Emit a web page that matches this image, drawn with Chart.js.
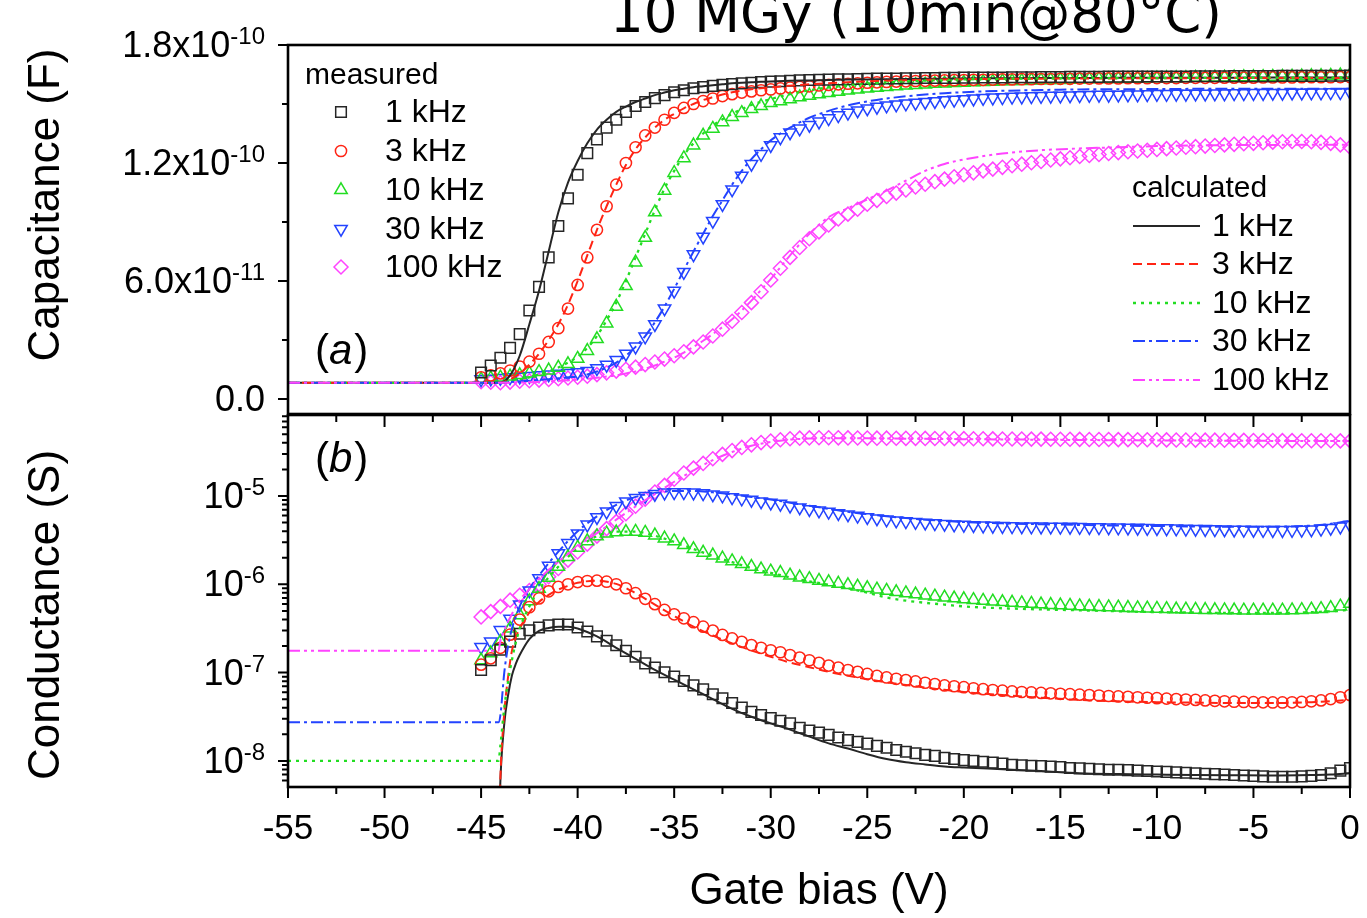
<!DOCTYPE html>
<html>
<head>
<meta charset="utf-8">
<title>10 MGy (10min@80°C) - C-V and G-V</title>
<script src="https://cdn.jsdelivr.net/npm/chart.js@4.4.1/dist/chart.umd.min.js"></script>
<style>
  html, body { margin: 0; padding: 0; background: #fff; }
  #wrap { position: relative; width: 1367px; height: 918px; overflow: hidden; background: #fff; }
  #capChart { position: absolute; left: 0; top: 0; }
  #condChart { position: absolute; left: 0; top: 414px; }
</style>
</head>
<body>
<div id="wrap">
  <canvas id="capChart" width="1367" height="416"></canvas>
  <canvas id="condChart" width="1367" height="504"></canvas>
</div>
<script>
// ---- data ----
const titleText = '10 MGy (10min@80°C)';
const freqLabels = ['1 kHz', '3 kHz', '10 kHz', '30 kHz', '100 kHz'];

// gate bias of the measured points (V)
const biasMeas = [-45, -44.5, -44, -43.5, -43, -42.5, -42, -41.5, -41, -40.5,
  -40, -39.5, -39, -38.5, -38, -37.5, -37, -36.5, -36, -35.5,
  -35, -34.5, -34, -33.5, -33, -32.5, -32, -31.5, -31, -30.5,
  -30, -29.5, -29, -28.5, -28, -27.5, -27, -26.5, -26, -25.5,
  -25, -24.5, -24, -23.5, -23, -22.5, -22, -21.5, -21, -20.5,
  -20, -19.5, -19, -18.5, -18, -17.5, -17, -16.5, -16, -15.5,
  -15, -14.5, -14, -13.5, -13, -12.5, -12, -11.5, -11, -10.5,
  -10, -9.5, -9, -8.5, -8, -7.5, -7, -6.5, -6, -5.5,
  -5, -4.5, -4, -3.5, -3, -2.5, -2, -1.5, -1, -0.5, 0];

// measured capacitance (pF)
const capMeas1k = [13.5, 17, 21, 26, 33, 45, 57, 72, 88, 102,
  114, 125, 132, 138, 142, 146, 149, 151, 153, 154.5,
  156, 157, 158, 158.6, 159.2, 159.7, 160.1, 160.5, 160.8, 161.1,
  161.4, 161.6, 161.8, 162, 162.2, 162.3, 162.4, 162.5, 162.6, 162.7,
  162.8, 162.9, 163, 163, 163.1, 163.1, 163.2, 163.2, 163.3, 163.3,
  163.4, 163.4, 163.5, 163.5, 163.5, 163.6, 163.6, 163.6, 163.7, 163.7,
  163.7, 163.8, 163.8, 163.8, 163.8, 163.9, 163.9, 163.9, 163.9, 164,
  164, 164, 164, 164, 164.1, 164.1, 164.1, 164.1, 164.2, 164.2,
  164.2, 164.2, 164.2, 164.3, 164.3, 164.3, 164.3, 164.3, 164.4, 164.4, 164.5];
const capMeas3k = [11, 12, 13, 14.5, 16.5, 19, 23, 29, 36, 46,
  58, 72, 86, 98, 109, 120, 128, 134, 138, 142,
  145.5, 148, 150, 151.5, 152.8, 154, 155, 155.8, 156.4, 157,
  157.4, 157.9, 158.3, 158.7, 159, 159.4, 159.7, 160, 160.3, 160.5,
  160.8, 161, 161.2, 161.4, 161.5, 161.7, 161.8, 161.9, 162, 162.1,
  162.2, 162.3, 162.3, 162.4, 162.5, 162.5, 162.6, 162.6, 162.7, 162.7,
  162.8, 162.8, 162.9, 162.9, 163, 163, 163, 163.1, 163.1, 163.1,
  163.2, 163.2, 163.2, 163.3, 163.3, 163.3, 163.3, 163.4, 163.4, 163.4,
  163.4, 163.5, 163.5, 163.5, 163.5, 163.6, 163.6, 163.6, 163.6, 163.7, 163.7];
const capMeas10k = [10, 10.5, 11, 11.5, 12.2, 13, 13.8, 14.6, 16, 17.8,
  20.5, 24.5, 30.5, 38.5, 47, 57.5, 69.5, 82, 95, 106,
  115, 122.5, 129, 134, 137.5, 140.8, 143.5, 145.5, 147.5, 149,
  150.5, 151.5, 152.5, 153.5, 154.3, 155, 155.7, 156.3, 156.9, 157.4,
  157.9, 158.3, 158.7, 159.1, 159.4, 159.7, 160, 160.3, 160.5, 160.7,
  160.9, 161.1, 161.3, 161.4, 161.6, 161.7, 161.8, 162, 162.1, 162.2,
  162.3, 162.4, 162.5, 162.6, 162.7, 162.7, 162.8, 162.9, 163, 163,
  163.1, 163.2, 163.2, 163.3, 163.4, 163.4, 163.5, 163.5, 163.6, 163.7,
  163.7, 163.8, 163.9, 163.9, 164, 164.1, 164.2, 164.3, 164.4, 164.6, 164.8];
const capMeas30k = [10, 10.3, 10.6, 11, 11.3, 11.6, 12, 12.4, 12.8, 13.2,
  13.6, 14.2, 15.6, 17.3, 19.8, 23, 26.6, 31.7, 38, 46,
  55, 64.5, 73.5, 82.5, 90.5, 99, 106.5, 113.5, 119.5, 124.5,
  129, 133, 135.5, 137.5, 139.3, 141, 142.7, 144.2, 145.5, 146.7,
  147.7, 148.5, 149.2, 149.7, 150.2, 150.6, 151, 151.4, 151.8, 152.1,
  152.4, 152.7, 153, 153.2, 153.4, 153.6, 153.7, 153.9, 154, 154.1,
  154.2, 154.3, 154.4, 154.5, 154.6, 154.6, 154.7, 154.8, 154.8, 154.9,
  155, 155, 155.1, 155.1, 155.2, 155.2, 155.3, 155.3, 155.4, 155.4,
  155.5, 155.5, 155.6, 155.6, 155.7, 155.7, 155.8, 155.8, 155.9, 155.9, 156];
const capMeas100k = [8.8, 8.5, 8.3, 8.6, 9, 9.3, 9.6, 9.9, 10.3, 10.7,
  11.1, 11.6, 12.4, 13.3, 14.2, 15.1, 16.2, 17.5, 18.8, 20.3,
  22, 24, 26.5, 29, 32, 35.5, 39.5, 44, 49, 54.5,
  60.5, 66.5, 72, 77, 81.5, 85, 88.5, 91.5, 94, 96.5,
  99, 101, 103, 104.7, 106.3, 107.8, 109.2, 110.5, 111.8, 113,
  114, 115, 116, 116.9, 117.8, 118.6, 119.4, 120.1, 120.8, 121.5,
  122.1, 122.7, 123.3, 123.8, 124.3, 124.8, 125.3, 125.7, 126.1, 126.5,
  126.9, 127.3, 127.6, 128, 128.3, 128.6, 128.9, 129.2, 129.5, 129.8,
  130, 130.3, 130.6, 130.8, 130.9, 130.9, 130.8, 130.5, 130, 129.2, 128];

// calculated capacitance (pF)
const biasCalcC = [-55, -44, -43.5, -43, -42.5, -42, -41.5, -41, -40.5, -40,
  -39.5, -39, -38.5, -38, -37.5, -37, -36.5, -36, -35.5, -35,
  -34.5, -34, -33.5, -33, -32.5, -32, -31.5, -31, -30.5, -30,
  -29, -28, -27, -26, -25, -24, -23, -22, -21, -20,
  -18, -16, -14, -12, -10, -8, -6, -4, -2, 0];
const capCalc1k = [8.2, 8.2, 12, 22, 38, 55, 75, 95, 110, 121,
  130, 137, 142, 146, 148.7, 151, 152.8, 154.5, 155.8, 157,
  157.8, 158.5, 159, 159.5, 160, 160.5, 160.8, 161, 161.3, 161.5,
  161.8, 162, 162.2, 162.4, 162.5, 162.6, 162.7, 162.8, 162.9, 163,
  163.1, 163.2, 163.2, 163.3, 163.3, 163.4, 163.4, 163.5, 163.5, 163.5];
const capCalc3k = [8.2, 8.2, 10, 13, 17.5, 23, 30, 38, 48, 60,
  73, 86, 98, 109, 119, 127, 133, 138, 142, 145,
  147.8, 150, 152, 153.5, 154.8, 156, 156.8, 157.5, 158, 158.5,
  159.3, 160, 160.6, 161.1, 161.5, 161.8, 162.1, 162.3, 162.5, 162.6,
  162.8, 162.9, 163, 163, 163.1, 163.1, 163.2, 163.2, 163.2, 163.2];
const capCalc10k = [8.2, 8.2, 9, 10, 11, 12.5, 14, 16, 18.5, 21.5,
  26, 32, 40, 49, 60, 72, 84, 96, 107, 116,
  124, 130, 135, 139, 142.2, 145, 147.4, 149.5, 151.1, 152.5,
  155, 157, 158.4, 159.5, 160.3, 161, 161.5, 161.9, 162.2, 162.5,
  162.8, 163, 163.1, 163.2, 163.2, 163.3, 163.3, 163.4, 163.4, 163.5];
const capCalc30k = [8.2, 8.2, 8.6, 9, 9.3, 9.7, 10.1, 10.5, 11, 11.5,
  12.5, 14, 16, 18.5, 22, 26.5, 32, 39, 47, 56,
  65.5, 75, 84, 93, 101, 109, 116, 122, 127, 131.5,
  138, 143, 146.5, 149.3, 151.3, 152.8, 153.9, 154.8, 155.5, 156,
  156.7, 157.1, 157.4, 157.5, 157.6, 157.7, 157.7, 157.7, 157.8, 157.8];
const capCalc100k = [8.2, 8.2, 8.3, 8.4, 8.5, 8.7, 8.9, 9.2, 9.5, 9.8,
  10.3, 10.8, 11.4, 12, 13, 14, 15.4, 17, 19, 21,
  23.6, 26.5, 29.6, 33, 36.6, 40.5, 45, 50, 55.5, 61,
  73, 84, 92.5, 97, 101.5, 106, 111, 116, 119.5, 121.8,
  124.8, 126.5, 127.4, 128, 128.6, 128.9, 129.1, 129.2, 129.3, 129.3];

// measured conductance (S)
const condMeas1k = [1.07e-7, 1.38e-7, 1.82e-7, 2.24e-7, 2.75e-7, 3.02e-7, 3.24e-7, 3.43e-7, 3.51e-7, 3.51e-7,
  3.24e-7, 2.92e-7, 2.57e-7, 2.29e-7, 2.04e-7, 1.76e-7, 1.51e-7, 1.27e-7, 1.14e-7, 1.01e-7,
  9.02e-8, 8.04e-8, 7.16e-8, 6.46e-8, 5.69e-8, 5.13e-8, 4.52e-8, 4.03e-8, 3.59e-8, 3.31e-8,
  3.05e-8, 2.85e-8, 2.66e-8, 2.37e-8, 2.21e-8, 2.09e-8, 1.97e-8, 1.84e-8, 1.72e-8, 1.64e-8,
  1.57e-8, 1.48e-8, 1.41e-8, 1.33e-8, 1.27e-8, 1.22e-8, 1.17e-8, 1.14e-8, 1.08e-8, 1.05e-8,
  1.02e-8, 1.00e-8, 9.77e-9, 9.55e-9, 9.33e-9, 9.02e-9, 8.91e-9, 8.81e-9, 8.71e-9, 8.61e-9,
  8.51e-9, 8.32e-9, 8.22e-9, 8.13e-9, 8.04e-9, 7.94e-9, 7.94e-9, 7.85e-9, 7.76e-9, 7.67e-9,
  7.59e-9, 7.50e-9, 7.41e-9, 7.33e-9, 7.24e-9, 7.16e-9, 7.08e-9, 7.00e-9, 6.92e-9, 6.84e-9,
  6.76e-9, 6.68e-9, 6.61e-9, 6.61e-9, 6.61e-9, 6.68e-9, 6.76e-9, 6.92e-9, 7.24e-9, 7.76e-9, 8.32e-9];
const condMeas3k = [1.23e-7, 1.45e-7, 1.91e-7, 2.69e-7, 3.98e-7, 5.50e-7, 6.92e-7, 8.32e-7, 9.33e-7, 1.00e-6,
  1.06e-6, 1.09e-6, 1.10e-6, 1.07e-6, 1.00e-6, 9.02e-7, 7.94e-7, 6.84e-7, 5.96e-7, 5.13e-7,
  4.57e-7, 4.12e-7, 3.72e-7, 3.31e-7, 2.99e-7, 2.67e-7, 2.44e-7, 2.23e-7, 2.05e-7, 1.91e-7,
  1.79e-7, 1.70e-7, 1.58e-7, 1.48e-7, 1.38e-7, 1.29e-7, 1.20e-7, 1.14e-7, 1.07e-7, 1.02e-7,
  9.66e-8, 9.16e-8, 8.81e-8, 8.51e-8, 8.22e-8, 7.94e-8, 7.67e-8, 7.41e-8, 7.16e-8, 7.00e-8,
  6.84e-8, 6.64e-8, 6.49e-8, 6.35e-8, 6.24e-8, 6.12e-8, 6.03e-8, 5.96e-8, 5.89e-8, 5.82e-8,
  5.75e-8, 5.69e-8, 5.62e-8, 5.56e-8, 5.50e-8, 5.43e-8, 5.37e-8, 5.31e-8, 5.25e-8, 5.19e-8,
  5.13e-8, 5.07e-8, 5.01e-8, 4.95e-8, 4.90e-8, 4.84e-8, 4.79e-8, 4.73e-8, 4.68e-8, 4.65e-8,
  4.62e-8, 4.60e-8, 4.59e-8, 4.59e-8, 4.61e-8, 4.65e-8, 4.73e-8, 4.84e-8, 5.01e-8, 5.25e-8, 5.56e-8];
const condMeas10k = [1.38e-7, 1.66e-7, 2.24e-7, 3.16e-7, 4.47e-7, 6.46e-7, 8.91e-7, 1.19e-6, 1.58e-6, 2.04e-6,
  2.60e-6, 3.09e-6, 3.51e-6, 3.78e-6, 3.89e-6, 3.94e-6, 3.95e-6, 3.85e-6, 3.59e-6, 3.32e-6,
  3.08e-6, 2.79e-6, 2.51e-6, 2.29e-6, 2.13e-6, 1.97e-6, 1.83e-6, 1.70e-6, 1.58e-6, 1.48e-6,
  1.40e-6, 1.35e-6, 1.26e-6, 1.20e-6, 1.15e-6, 1.10e-6, 1.06e-6, 1.02e-6, 9.82e-7, 9.44e-7,
  9.08e-7, 8.75e-7, 8.47e-7, 8.18e-7, 7.94e-7, 7.71e-7, 7.50e-7, 7.29e-7, 7.11e-7, 6.95e-7,
  6.81e-7, 6.67e-7, 6.53e-7, 6.41e-7, 6.31e-7, 6.21e-7, 6.11e-7, 6.03e-7, 5.94e-7, 5.86e-7,
  5.79e-7, 5.73e-7, 5.66e-7, 5.61e-7, 5.56e-7, 5.51e-7, 5.47e-7, 5.42e-7, 5.37e-7, 5.33e-7,
  5.30e-7, 5.26e-7, 5.22e-7, 5.19e-7, 5.16e-7, 5.14e-7, 5.12e-7, 5.09e-7, 5.08e-7, 5.07e-7,
  5.06e-7, 5.06e-7, 5.06e-7, 5.07e-7, 5.09e-7, 5.13e-7, 5.19e-7, 5.27e-7, 5.40e-7, 5.62e-7, 6.03e-7];
const condMeas30k = [1.95e-7, 2.24e-7, 3.02e-7, 4.07e-7, 5.89e-7, 8.51e-7, 1.17e-6, 1.62e-6, 2.24e-6, 2.92e-6,
  3.76e-6, 4.73e-6, 5.75e-6, 6.64e-6, 7.67e-6, 8.65e-6, 9.44e-6, 1.00e-5, 1.05e-5, 1.09e-5,
  1.10e-5, 1.10e-5, 1.09e-5, 1.07e-5, 1.04e-5, 1.01e-5, 9.66e-6, 9.33e-6, 9.02e-6, 8.67e-6,
  8.39e-6, 8.13e-6, 7.76e-6, 7.41e-6, 7.08e-6, 6.84e-6, 6.61e-6, 6.38e-6, 6.17e-6, 5.96e-6,
  5.75e-6, 5.56e-6, 5.40e-6, 5.27e-6, 5.16e-6, 5.07e-6, 4.98e-6, 4.90e-6, 4.82e-6, 4.75e-6,
  4.70e-6, 4.66e-6, 4.61e-6, 4.58e-6, 4.55e-6, 4.53e-6, 4.51e-6, 4.50e-6, 4.49e-6, 4.48e-6,
  4.47e-6, 4.46e-6, 4.44e-6, 4.43e-6, 4.41e-6, 4.40e-6, 4.38e-6, 4.37e-6, 4.35e-6, 4.33e-6,
  4.31e-6, 4.29e-6, 4.27e-6, 4.25e-6, 4.23e-6, 4.21e-6, 4.19e-6, 4.17e-6, 4.15e-6, 4.13e-6,
  4.12e-6, 4.11e-6, 4.10e-6, 4.10e-6, 4.11e-6, 4.13e-6, 4.17e-6, 4.24e-6, 4.34e-6, 4.49e-6, 4.68e-6];
const condMeas100k = [4.27e-7, 4.90e-7, 5.62e-7, 6.61e-7, 7.50e-7, 8.51e-7, 1.00e-6, 1.22e-6, 1.51e-6, 1.88e-6,
  2.32e-6, 2.85e-6, 3.51e-6, 4.27e-6, 5.13e-6, 6.31e-6, 7.67e-6, 9.23e-6, 1.11e-5, 1.32e-5,
  1.55e-5, 1.82e-5, 2.07e-5, 2.34e-5, 2.64e-5, 2.96e-5, 3.27e-5, 3.55e-5, 3.80e-5, 4.03e-5,
  4.19e-5, 4.34e-5, 4.45e-5, 4.52e-5, 4.55e-5, 4.57e-5, 4.57e-5, 4.56e-5, 4.55e-5, 4.54e-5,
  4.53e-5, 4.52e-5, 4.52e-5, 4.51e-5, 4.50e-5, 4.50e-5, 4.49e-5, 4.48e-5, 4.48e-5, 4.47e-5,
  4.46e-5, 4.45e-5, 4.45e-5, 4.44e-5, 4.43e-5, 4.43e-5, 4.42e-5, 4.41e-5, 4.41e-5, 4.40e-5,
  4.39e-5, 4.39e-5, 4.38e-5, 4.37e-5, 4.37e-5, 4.36e-5, 4.35e-5, 4.35e-5, 4.34e-5, 4.33e-5,
  4.33e-5, 4.32e-5, 4.31e-5, 4.31e-5, 4.30e-5, 4.29e-5, 4.29e-5, 4.28e-5, 4.27e-5, 4.27e-5,
  4.26e-5, 4.25e-5, 4.25e-5, 4.24e-5, 4.24e-5, 4.23e-5, 4.23e-5, 4.22e-5, 4.22e-5, 4.21e-5, 4.21e-5];

// calculated conductance (S); 1 kHz and 3 kHz sit below the axis before -44 V
const biasCalcG = [-55, -44.1, -44, -43.8, -43.6, -43.4, -43.2, -43, -42.5, -42,
  -41.5, -41, -40.5, -40, -39, -38, -37, -36, -35, -34,
  -33, -32, -31, -30, -29, -28, -27, -26, -25, -24,
  -23, -22, -21, -20, -18, -16, -14, -12, -10, -8,
  -6, -4, -2, -1, 0];
const condCalc1k = [1e-9, 1e-9, 6.0e-9, 2.63e-8, 5.57e-8, 9.33e-8, 1.26e-7, 1.58e-7, 2.40e-7, 2.96e-7,
  3.2e-7, 3.31e-7, 3.3e-7, 3.16e-7, 2.57e-7, 1.91e-7, 1.43e-7, 1.07e-7, 8.32e-8, 6.46e-8,
  5.01e-8, 3.89e-8, 3.16e-8, 2.66e-8, 2.26e-8, 1.88e-8, 1.58e-8, 1.38e-8, 1.19e-8, 1.05e-8,
  9.66e-9, 9.12e-9, 8.65e-9, 8.41e-9, 8.04e-9, 7.67e-9, 7.24e-9, 7.08e-9, 7.00e-9, 6.92e-9,
  6.87e-9, 6.84e-9, 6.92e-9, 7.0e-9, 7.24e-9];
const condCalc3k = [1e-9, 1e-9, 6.5e-9, 3.5e-8, 9.0e-8, 1.78e-7, 2.5e-7, 3.16e-7, 4.79e-7, 6.31e-7,
  7.6e-7, 8.71e-7, 9.6e-7, 1.04e-6, 1.10e-6, 1.01e-6, 7.94e-7, 5.89e-7, 4.37e-7, 3.31e-7,
  2.63e-7, 2.14e-7, 1.78e-7, 1.51e-7, 1.30e-7, 1.15e-7, 1.02e-7, 9.23e-8, 8.41e-8, 7.76e-8,
  7.24e-8, 6.76e-8, 6.38e-8, 6.03e-8, 5.56e-8, 5.19e-8, 4.90e-8, 4.73e-8, 4.62e-8, 4.57e-8,
  4.52e-8, 4.52e-8, 4.62e-8, 4.75e-8, 4.90e-8];
const condCalc10k = [1.0e-8, 1.0e-8, 1.5e-8, 4.0e-8, 7.94e-8, 1.4e-7, 2.2e-7, 3.16e-7, 5.62e-7, 8.71e-7,
  1.20e-6, 1.58e-6, 2.04e-6, 2.57e-6, 3.51e-6, 3.94e-6, 3.94e-6, 3.55e-6, 3.02e-6, 2.51e-6,
  2.09e-6, 1.78e-6, 1.53e-6, 1.35e-6, 1.20e-6, 1.08e-6, 9.89e-7, 9.02e-7, 8.04e-7, 7.08e-7,
  6.53e-7, 6.17e-7, 5.89e-7, 5.62e-7, 5.35e-7, 5.19e-7, 5.07e-7, 4.95e-7, 4.84e-7, 4.79e-7,
  4.73e-7, 4.73e-7, 4.84e-7, 4.95e-7, 5.13e-7];
const condCalc30k = [2.73e-8, 2.73e-8, 3.3e-8, 1.0e-7, 2.0e-7, 3.16e-7, 4.3e-7, 5.62e-7, 8.91e-7, 1.26e-6,
  1.74e-6, 2.34e-6, 3.09e-6, 3.98e-6, 5.89e-6, 7.94e-6, 9.77e-6, 1.08e-5, 1.14e-5, 1.14e-5,
  1.10e-5, 1.04e-5, 9.77e-6, 9.12e-6, 8.41e-6, 7.76e-6, 7.16e-6, 6.61e-6, 6.24e-6, 5.89e-6,
  5.62e-6, 5.40e-6, 5.22e-6, 5.07e-6, 4.90e-6, 4.79e-6, 4.70e-6, 4.62e-6, 4.57e-6, 4.52e-6,
  4.49e-6, 4.49e-6, 4.62e-6, 4.84e-6, 5.25e-6];
const condCalc100k = [1.77e-7, 1.77e-7, 2.3e-7, 3.0e-7, 3.8e-7, 4.6e-7, 5.6e-7, 6.6e-7, 8.8e-7, 1.15e-6,
  1.45e-6, 1.8e-6, 2.2e-6, 2.7e-6, 3.8e-6, 5.4e-6, 7.6e-6, 1.05e-5, 1.45e-5, 1.95e-5,
  2.55e-5, 3.15e-5, 3.7e-5, 4.1e-5, 4.35e-5, 4.47e-5, 4.5e-5, 4.5e-5, 4.5e-5, 4.48e-5,
  4.46e-5, 4.44e-5, 4.42e-5, 4.4e-5, 4.37e-5, 4.34e-5, 4.31e-5, 4.28e-5, 4.26e-5, 4.24e-5,
  4.22e-5, 4.21e-5, 4.2e-5, 4.2e-5, 4.2e-5];

// axis ticks
const biasMajorTicks = [-55, -50, -45, -40, -35, -30, -25, -20, -15, -10, -5, 0];
const biasMinorTicks = [-52.5, -47.5, -42.5, -37.5, -32.5, -27.5, -22.5, -17.5, -12.5, -7.5, -2.5];
const capMajorTicks = [0, 60, 120, 180];      // pF
const capMinorTicks = [30, 90, 150];
const capTickText = [['0.0', ''], ['6.0x10', '-11'], ['1.2x10', '-10'], ['1.8x10', '-10']];
const condMajorTicks = [1e-8, 1e-7, 1e-6, 1e-5];
const condMinorTicks = [6e-9, 7e-9, 8e-9, 9e-9,
  2e-8, 3e-8, 4e-8, 5e-8, 6e-8, 7e-8, 8e-8, 9e-8,
  2e-7, 3e-7, 4e-7, 5e-7, 6e-7, 7e-7, 8e-7, 9e-7,
  2e-6, 3e-6, 4e-6, 5e-6, 6e-6, 7e-6, 8e-6, 9e-6,
  2e-5, 3e-5, 4e-5, 5e-5, 6e-5, 7e-5, 8e-5];
const condTickText = [['10', '-8'], ['10', '-7'], ['10', '-6'], ['10', '-5']];

// ---- styles ----
const FONT = '"Liberation Sans", Arial, Helvetica, sans-serif';
const looks = [
  { color: '#262626', point: 'rect',     radius: 7.5, rotation: 0,   dash: [],                  width: 2 },
  { color: '#ff2414', point: 'circle',   radius: 5.6, rotation: 0,   dash: [9, 5],              width: 2 },
  { color: '#22dd22', point: 'triangle', radius: 7.2, rotation: 0,   dash: [3, 5],              width: 2.3 },
  { color: '#2343ff', point: 'triangle', radius: 7.2, rotation: 180, dash: [12, 4, 3, 4],       width: 2 },
  { color: '#ff44ff', point: 'rectRot',  radius: 7,   rotation: 0,   dash: [12, 4, 3, 4, 3, 4], width: 2 }
];

function pts(xs, ys) {
  return xs.map((x, i) => ({ x: x, y: ys[i] }));
}

// Chart.js paints dataset 0 last, so the 100 kHz curve ends up on top of the shared flat part
function buildDatasets(calcX, calcY, measY) {
  const calc = calcY.map((ys, k) => ({
    data: pts(calcX, ys),
    borderColor: looks[k].color,
    borderWidth: looks[k].width,
    borderDash: looks[k].dash,
    pointRadius: 0,
    cubicInterpolationMode: 'monotone',
    fill: false
  })).reverse();
  const meas = measY.map((ys, k) => ({
    data: pts(biasMeas, ys),
    showLine: false,
    borderColor: looks[k].color,
    pointStyle: looks[k].point,
    pointRotation: looks[k].rotation,
    pointRadius: looks[k].radius,
    pointBorderWidth: 1.5,
    pointBorderColor: looks[k].color,
    pointBackgroundColor: 'rgba(0,0,0,0)'
  }));
  return calc.concat(meas);
}

function drawMarker(ctx, k, x, y) {
  const lk = looks[k];
  ctx.save();
  ctx.strokeStyle = lk.color;
  ctx.fillStyle = 'rgba(0,0,0,0)';
  ctx.lineWidth = 1.5;
  ctx.setLineDash([]);
  Chart.helpers.drawPoint(ctx, { pointStyle: lk.point, rotation: lk.rotation, radius: lk.radius, borderWidth: 1.5 }, x, y);
  ctx.restore();
}

function vText(ctx, s, x, y) {
  ctx.save();
  ctx.translate(x, y);
  ctx.rotate(-Math.PI / 2);
  ctx.textAlign = 'center';
  ctx.textBaseline = 'alphabetic';
  ctx.fillText(s, 0, 0);
  ctx.restore();
}

function panelTag(ctx, letter, x, y) {
  ctx.save();
  ctx.textAlign = 'left';
  ctx.textBaseline = 'alphabetic';
  ctx.font = '42px ' + FONT;
  ctx.fillText('(', x, y);
  x += ctx.measureText('(').width;
  ctx.font = 'italic 42px ' + FONT;
  ctx.fillText(letter, x, y);
  x += ctx.measureText(letter).width + 2;
  ctx.font = '42px ' + FONT;
  ctx.fillText(')', x, y);
  ctx.restore();
}

// frame, tick marks and y tick labels (mantissa + superscript exponent)
function panelDecor(cfg) {
  return {
    id: 'panelDecor',
    afterDatasetsDraw(chart) {
      const ctx = chart.ctx;
      const a = chart.chartArea;
      const xs = chart.scales.x;
      const ys = chart.scales.y;
      ctx.save();
      ctx.strokeStyle = '#000';
      ctx.setLineDash([]);
      ctx.lineWidth = 2.6;
      ctx.strokeRect(a.left, a.top, a.right - a.left, a.bottom - a.top);
      ctx.lineWidth = 2;
      ctx.beginPath();
      cfg.yMajor.forEach(v => {
        const y = ys.getPixelForValue(v);
        ctx.moveTo(a.left, y); ctx.lineTo(a.left - 10, y);
      });
      cfg.yMinor.forEach(v => {
        const y = ys.getPixelForValue(v);
        ctx.moveTo(a.left, y); ctx.lineTo(a.left - 6, y);
      });
      if (cfg.xTicks) {
        biasMajorTicks.forEach(v => {
          const x = xs.getPixelForValue(v);
          ctx.moveTo(x, a.bottom); ctx.lineTo(x, a.bottom + 11);
          ctx.moveTo(x, a.top); ctx.lineTo(x, a.top + 12);
        });
        biasMinorTicks.forEach(v => {
          const x = xs.getPixelForValue(v);
          ctx.moveTo(x, a.bottom); ctx.lineTo(x, a.bottom + 7);
          ctx.moveTo(x, a.top); ctx.lineTo(x, a.top + 7);
        });
      }
      ctx.stroke();

      ctx.fillStyle = '#000';
      const right = 265;
      cfg.yMajor.forEach((v, i) => {
        const y = ys.getPixelForValue(v);
        const mant = cfg.yText[i][0];
        const expo = cfg.yText[i][1];
        let ew = 0;
        ctx.textAlign = 'right';
        if (expo) {
          ctx.font = '24px ' + FONT;
          ew = ctx.measureText(expo).width;
          ctx.textBaseline = 'alphabetic';
          ctx.fillText(expo, right, y - 1);
        }
        ctx.font = '36px ' + FONT;
        ctx.textBaseline = 'middle';
        ctx.fillText(mant, right - ew, y + 2);
      });
      ctx.restore();
    },
    afterDraw(chart) {
      cfg.texts(chart.ctx);
    }
  };
}

function topTexts(ctx) {
  ctx.save();
  ctx.fillStyle = '#000';
  ctx.font = '53px "DejaVu Sans", Verdana, sans-serif';
  ctx.textAlign = 'left';
  ctx.textBaseline = 'alphabetic';
  ctx.fillText(titleText, 610, 32);

  ctx.font = '44px ' + FONT;
  vText(ctx, 'Capacitance (F)', 59, 205);
  panelTag(ctx, 'a', 315, 364);

  // measured legend
  ctx.textAlign = 'left';
  ctx.textBaseline = 'middle';
  ctx.font = '30px ' + FONT;
  ctx.fillText('measured', 305, 76);
  const mRows = [112, 151, 190, 229, 267];
  ctx.font = '32px ' + FONT;
  freqLabels.forEach((s, k) => {
    drawMarker(ctx, k, 341, mRows[k]);
    ctx.fillText(s, 385, mRows[k] + 1);
  });

  // calculated legend
  ctx.font = '30px ' + FONT;
  ctx.fillText('calculated', 1132, 189);
  const cRows = [226, 264, 303, 341, 380];
  ctx.font = '32px ' + FONT;
  freqLabels.forEach((s, k) => {
    const lk = looks[k];
    ctx.save();
    ctx.strokeStyle = lk.color;
    ctx.lineWidth = lk.width;
    ctx.setLineDash(lk.dash);
    ctx.beginPath();
    ctx.moveTo(1133, cRows[k]);
    ctx.lineTo(1200, cRows[k]);
    ctx.stroke();
    ctx.restore();
    ctx.fillText(s, 1212, cRows[k] + 1);
  });
  ctx.restore();
}

function bottomTexts(ctx) {
  ctx.save();
  ctx.fillStyle = '#000';
  ctx.font = '44px ' + FONT;
  vText(ctx, 'Conductance (S)', 59, 201);
  panelTag(ctx, 'b', 315, 58);
  ctx.textAlign = 'center';
  ctx.textBaseline = 'alphabetic';
  ctx.fillText('Gate bias (V)', 819, 490);
  ctx.restore();
}

Chart.defaults.font.family = FONT;
Chart.defaults.color = '#000';

new Chart(document.getElementById('capChart'), {
  type: 'line',
  data: {
    datasets: buildDatasets(biasCalcC,
      [capCalc1k, capCalc3k, capCalc10k, capCalc30k, capCalc100k],
      [capMeas1k, capMeas3k, capMeas10k, capMeas30k, capMeas100k])
  },
  options: {
    responsive: false,
    animation: false,
    devicePixelRatio: 1,
    events: [],
    layout: { autoPadding: false, padding: { left: 288, right: 17, top: 45, bottom: 2 } },
    plugins: { legend: { display: false }, tooltip: { enabled: false } },
    scales: {
      x: { type: 'linear', display: false, min: -55, max: 0 },
      y: { type: 'linear', display: false, min: -7.63, max: 180 }
    }
  },
  plugins: [panelDecor({ yMajor: capMajorTicks, yMinor: capMinorTicks, yText: capTickText, xTicks: false, texts: topTexts })]
});

new Chart(document.getElementById('condChart'), {
  type: 'line',
  data: {
    datasets: buildDatasets(biasCalcG,
      [condCalc1k, condCalc3k, condCalc10k, condCalc30k, condCalc100k],
      [condMeas1k, condMeas3k, condMeas10k, condMeas30k, condMeas100k])
  },
  options: {
    responsive: false,
    animation: false,
    devicePixelRatio: 1,
    events: [],
    layout: { autoPadding: false, padding: { left: 288, right: 17, top: 1, bottom: 0 } },
    plugins: { legend: { display: false }, tooltip: { enabled: false } },
    scales: {
      x: {
        type: 'linear', position: 'bottom', min: -55, max: 0,
        grid: { display: false, drawTicks: false },
        border: { display: false },
        ticks: { stepSize: 5, padding: 21, maxRotation: 0, autoSkip: false, color: '#000', font: { size: 35 } },
        afterFit: function (scale) {
          scale.height = 131;
          scale.paddingLeft = 0;
          scale.paddingRight = 0;
        }
      },
      y: { type: 'logarithmic', display: false, min: 5.06e-9, max: 8.27e-5 }
    }
  },
  plugins: [panelDecor({ yMajor: condMajorTicks, yMinor: condMinorTicks, yText: condTickText, xTicks: true, texts: bottomTexts })]
});
</script>
</body>
</html>
